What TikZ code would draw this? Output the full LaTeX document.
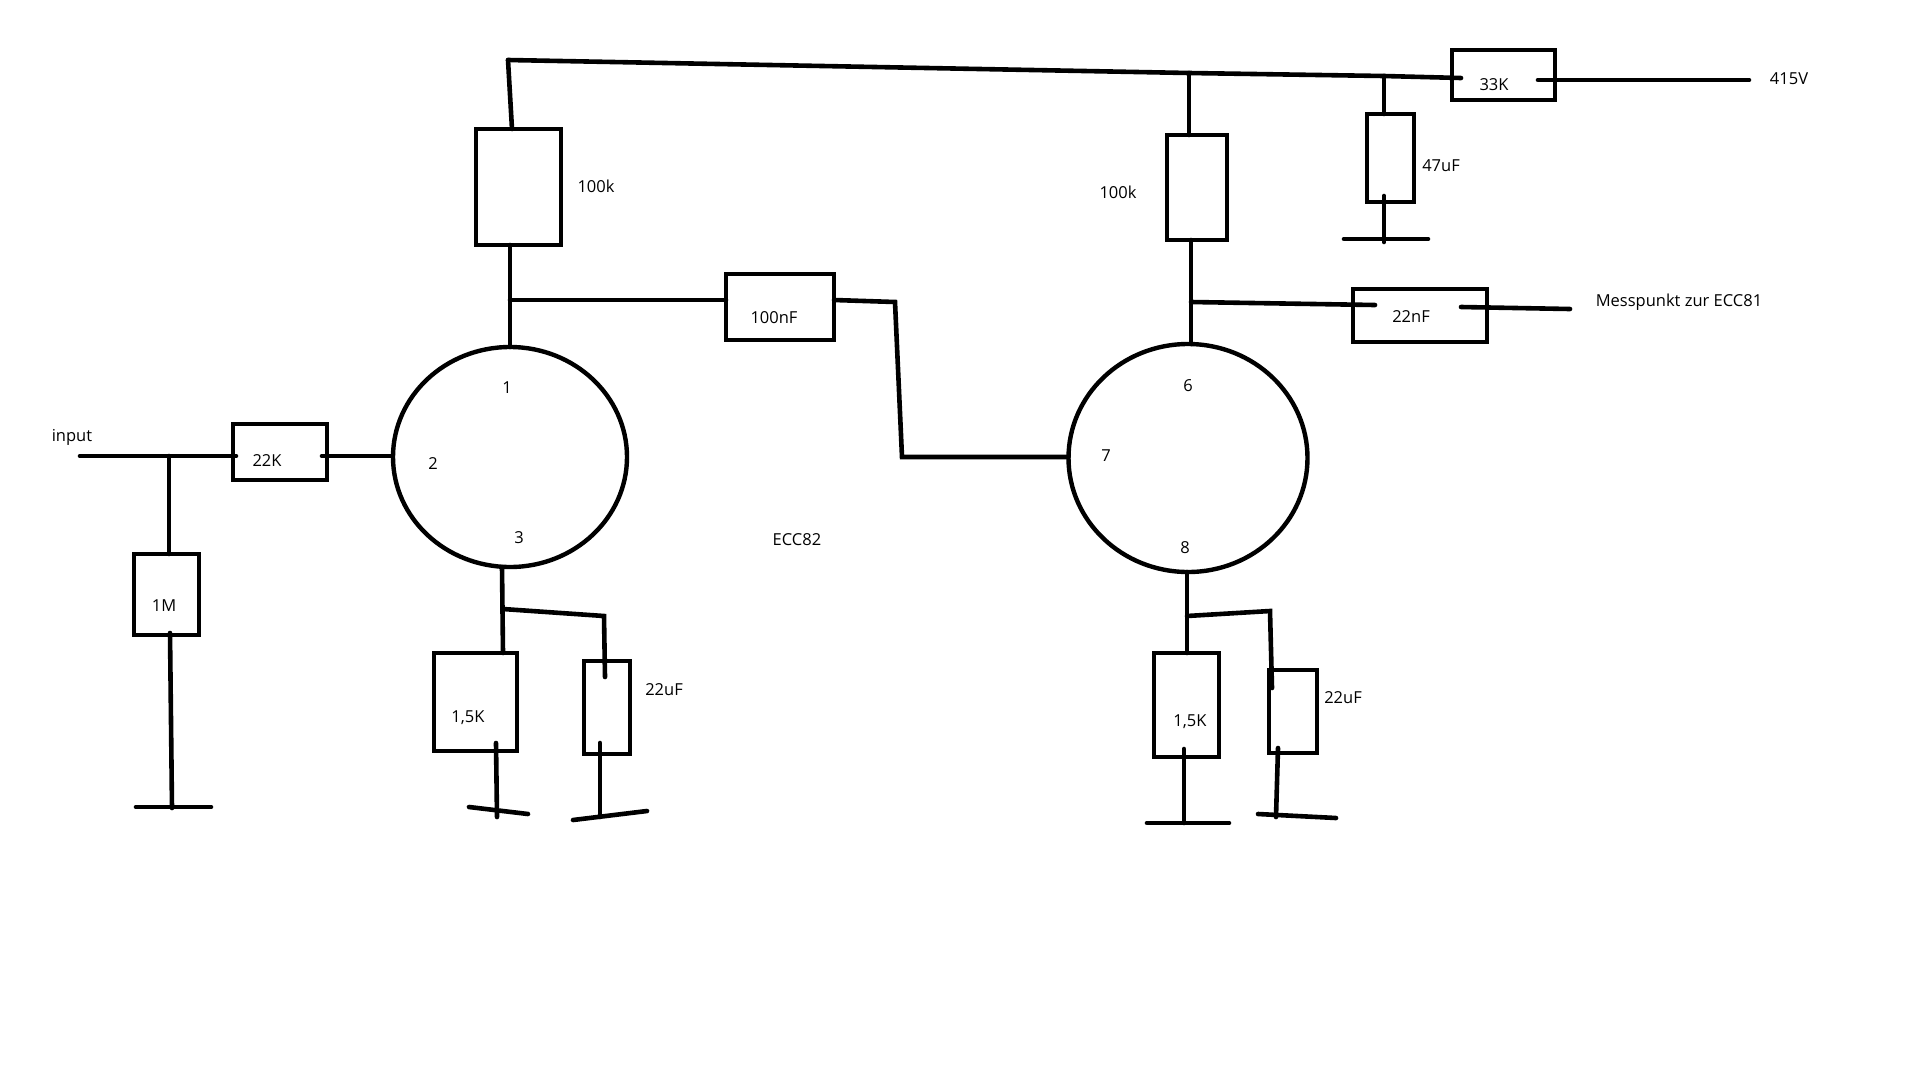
\documentclass[tikz,border=0pt]{standalone}
\usepackage{fontspec}
\setmainfont{Open Sans}
\usetikzlibrary{shapes.geometric}
\newcommand\DrawPart[5]{% name, corners
  \pgfmathsetmacro\partW{#4-#2}
  \pgfmathsetmacro\partH{#5-#3}
  \node[part,minimum width=\partW pt,minimum height=\partH pt]
    (#1) at ({(#2+#4)/2},{(#3+#5)/2}) {};
}
\tikzset{%
  wire/.style={line width=4.6pt,line cap=round},
  part/.style={draw,rectangle,line width=4.4pt,inner sep=0pt,outer sep=0pt},
  tube/.style={draw,ellipse,line width=4.4pt,inner sep=0pt,outer sep=0pt},
  label text/.style={inner sep=0pt,outer sep=0pt,yshift=-1.2pt,
    font=\fontsize{16.5}{20}\selectfont}
}
\begin{document}
\begin{tikzpicture}[x=1pt,y=-1pt]

\useasboundingbox (0,0) rectangle (1920,1080);

%% tubes

\node[tube,minimum width=234pt,minimum height=220pt] (tubeA) at (510,457) {};
\node[tube,minimum width=239pt,minimum height=228pt] (tubeB) at (1188,458) {};

%% parts

\DrawPart{Rload}{476}{129}{561}{245}
\DrawPart{Cc}{726}{274}{834}{340}
\DrawPart{Rgrid}{233}{424}{327}{480}
\DrawPart{Rin}{134}{554}{199}{635}
\DrawPart{RkA}{434}{653}{517}{751}
\DrawPart{CkA}{584}{661}{630}{754}
\DrawPart{RloadB}{1167}{135}{1227}{240}
\DrawPart{Cout}{1353}{289}{1487}{342}
\DrawPart{Rsup}{1452}{50}{1555}{100}
\DrawPart{Csup}{1367}{114}{1414}{202}
\DrawPart{RkB}{1154}{653}{1219}{757}
\DrawPart{CkB}{1269}{670}{1317}{753}

%% junctions and free ends

\coordinate (topL) at (508,60);
\coordinate (topB) at (1189,73);
\coordinate (topC) at (1384,76);
\coordinate (topR) at (1461,78);
\coordinate (supIn) at (1538,80);
\coordinate (supEnd) at (1749,80);
\coordinate (csupOut) at (1384,196);
\coordinate (csupEnd) at (1384,242);
\coordinate (plateA) at (510,300);
\coordinate (ccIn) at (834,300);
\coordinate (ccBend) at (895,302);
\coordinate (gridB) at (902,457);
\coordinate (inStart) at (80,456);
\coordinate (inJoin) at (169,456);
\coordinate (inEnd) at (236,456);
\coordinate (gridAin) at (322,456);
\coordinate (gridAout) at (392,456);
\coordinate (rinOut) at (170,633);
\coordinate (rinEnd) at (172,808);
\coordinate (kJoinA) at (503,609);
\coordinate (kBendA) at (604,616);
\coordinate (ckAIn) at (605,677);
\coordinate (rkAOut) at (496,743);
\coordinate (rkAEnd) at (497,817);
\coordinate (ckAOut) at (600,743);
\coordinate (ckAEnd) at (600,817);
\coordinate (kJoinB) at (1187,616);
\coordinate (kBendB) at (1270,611);
\coordinate (ckBIn) at (1272,688);
\coordinate (rkBOut) at (1184,749);
\coordinate (rkBEnd) at (1184,823);
\coordinate (ckBOut) at (1278,748);
\coordinate (ckBEnd) at (1276,817);
\coordinate (plateB) at (1191,302);
\coordinate (outIn) at (1375,305);
\coordinate (outOut) at (1461,307);
\coordinate (outEnd) at (1570,309);

%% grounds

\coordinate (gndInL) at (136,807);   \coordinate (gndInR) at (211,807);
\coordinate (gndKAL) at (469,807);   \coordinate (gndKAR) at (528,814);
\coordinate (gndCAL) at (573,820);   \coordinate (gndCAR) at (647,811);
\coordinate (gndKBL) at (1147,823);  \coordinate (gndKBR) at (1229,823);
\coordinate (gndCBL) at (1258,814);  \coordinate (gndCBR) at (1336,818);
\coordinate (gndSL) at (1344,239);   \coordinate (gndSR) at (1428,239);
\foreach \g in {In,KA,CA,KB,CB,S}
  \draw[wire] (gnd\g L) -- (gnd\g R);

%% supply

\draw[wire] (topL) -- (topB) -- (topC) -- (topR);
\draw[wire] (supIn) -- (supEnd);
\draw[wire] (topL) -- ([xshift=-6.5pt]Rload.north);
\draw[wire] (topB) -- (RloadB.north -| topB);
\draw[wire] (topC) -- (Csup.north -| topC);
\draw[wire] (csupOut) -- (csupEnd);

%% first stage

\draw[wire] (inStart) -- (inEnd);
\draw[wire] (inJoin) -- (Rin.north -| inJoin);
\draw[wire] (rinOut) -- (rinEnd);
\draw[wire] (gridAin) -- (gridAout);
\draw[wire] (Rload.south -| plateA) -- (tubeA.north -| plateA);
\draw[wire] (plateA) -- (Cc.west |- plateA);
\draw[wire] (ccIn) -- (ccBend) -- (gridB) -- (tubeB.west |- gridB);
\draw[wire] ([xshift=-8pt]tubeA.south) -- ([xshift=27.5pt]RkA.north);
\draw[wire] (kJoinA) -- (kBendA) -- (ckAIn);
\draw[wire] (rkAOut) -- (rkAEnd);
\draw[wire] (ckAOut) -- (ckAEnd);

%% second stage

\draw[wire] (RloadB.south -| plateB) -- (tubeB.north -| plateB);
\draw[wire] (plateB) -- (outIn);
\draw[wire] (outOut) -- (outEnd);
\draw[wire] (tubeB.south -| kJoinB) -- (RkB.north -| kJoinB);
\draw[wire] (kJoinB) -- (kBendB) -- (ckBIn);
\draw[wire] (rkBOut) -- (rkBEnd);
\draw[wire] (ckBOut) -- (ckBEnd);

%% labels

\node[label text] (tInput) at (72,436) {input};
\node[label text] (t22K) at (267,459) {22K};
\node[label text] (t1M) at (164,604) {1M};
\node[label text] (tLoadA) at (596,185) {100k};
\node[label text] (tCc) at (774,316) {100nF};
\node[label text] (tKA) at (468,716) {1,5K};
\node[label text] (tCkA) at (664,688) {22uF};
\node[label text] (tECC) at (797,538) {ECC82};
\node[label text] (tLoadB) at (1118,191) {100k};
\node[label text] (tCout) at (1411,315) {22nF};
\node[label text] (tMess) at (1679,301) {Messpunkt zur ECC81};
\node[label text] (tSup) at (1494,83) {33K};
\node[label text] (tV) at (1789,77) {415V};
\node[label text] (tCsup) at (1441,164) {47uF};
\node[label text] (tKB) at (1190,720) {1,5K};
\node[label text] (tCkB) at (1343,696) {22uF};
\node[label text] (pin1) at (507,386) {1};
\node[label text] (pin2) at (433,462) {2};
\node[label text] (pin3) at (519,536) {3};
\node[label text] (pin6) at (1188,384) {6};
\node[label text] (pin7) at (1106,454) {7};
\node[label text] (pin8) at (1185,546) {8};

\end{tikzpicture}
\end{document}
